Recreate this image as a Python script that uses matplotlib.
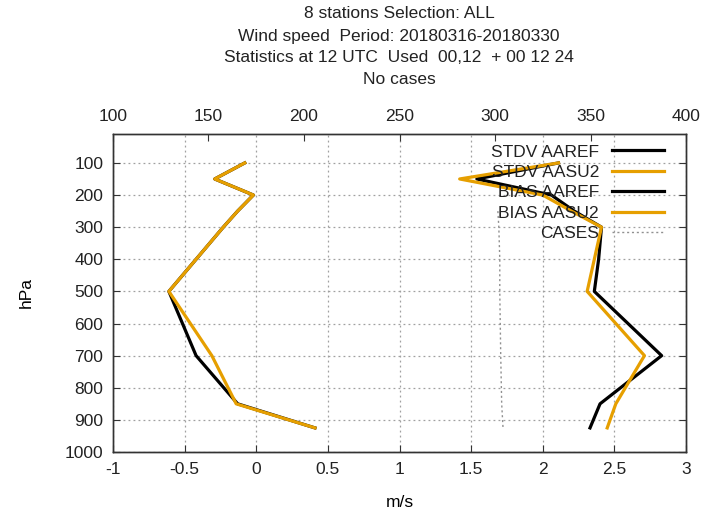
import numpy as np
import matplotlib.pyplot as plt
from matplotlib.lines import Line2D

plt.rcParams['font.family'] = ['Liberation Sans', 'DejaVu Sans']
plt.rcParams['font.size'] = 12.5
plt.rcParams['text.color'] = '#222222'

# pressure levels (hPa)
levels = [100, 150, 200, 250, 300, 400, 500, 700, 850, 925]

# m/s
stdv_aaref = [2.11, 1.54, 2.06, 2.22, 2.41, 2.39, 2.36, 2.83, 2.40, 2.33]
stdv_aasu2 = [2.11, 1.42, 2.00, 2.20, 2.41, 2.36, 2.31, 2.71, 2.51, 2.45]
bias_aaref = [-0.08, -0.29, -0.02, -0.13, -0.23, -0.42, -0.61, -0.42, -0.13, 0.41]
bias_aasu2 = [-0.08, -0.29, -0.02, -0.13, -0.23, -0.42, -0.61, -0.31, -0.14, 0.41]

# number of cases (top axis)
case_levels = [250, 300, 400, 500, 700, 850, 925]
cases = [301.5, 302.0, 302.5, 302.5, 303.0, 303.5, 304.2]

title_lines = [
    "8 stations Selection: ALL",
    "Wind speed  Period: 20180316-20180330",
    "Statistics at 12 UTC  Used  00,12  + 00 12 24",
    "No cases",
]

BLACK = '#000000'
ORANGE = '#e69f00'
GRIDC = '#a0a0a0'
FRAME = '#333333'

fig = plt.figure(figsize=(7.01, 5.09), dpi=100)
ax = fig.add_axes([113 / 701, 1 - 452 / 509, (686 - 113) / 701, (452 - 134) / 509])

ax.plot(stdv_aaref, levels, color=BLACK, lw=2.3, zorder=3)
ax.plot(stdv_aasu2, levels, color=ORANGE, lw=2.3, zorder=4)
ax.plot(bias_aaref, levels, color=BLACK, lw=2.3, zorder=3)
ax.plot(bias_aasu2, levels, color=ORANGE, lw=2.3, zorder=4)

ax.set_xlim(-1, 3)
ax.set_ylim(1000, 10)
ax.set_xticks(np.arange(-1, 3.01, 0.5))
ax.set_xticklabels(['-1', '-0.5', '0', '0.5', '1', '1.5', '2', '2.5', '3'])
ax.set_yticks(np.arange(100, 1001, 100))
ax.grid(True, color=GRIDC, ls=(0, (1.5, 2.5)), lw=0.9)
ax.tick_params(direction='in', length=5, color=FRAME, right=True, pad=7,
               labelcolor='#222222')
for s in ax.spines.values():
    s.set_color(FRAME)
    s.set_linewidth(1.0)
ax.set_xlabel('m/s', labelpad=13)
ax.set_ylabel('hPa', labelpad=22)

top = ax.twiny()
top.plot(cases, case_levels, color='#909090', lw=1.0, ls=(0, (1.5, 2)), zorder=2)
top.set_xlim(100, 400)
top.set_xticks(np.arange(100, 401, 50))
top.tick_params(direction='in', length=5, color=FRAME, pad=7, labelcolor='#222222')
for s in top.spines.values():
    s.set_color(FRAME)
    s.set_linewidth(1.0)

handles = [
    Line2D([], [], color=BLACK, lw=2.3),
    Line2D([], [], color=ORANGE, lw=2.3),
    Line2D([], [], color=BLACK, lw=2.3),
    Line2D([], [], color=ORANGE, lw=2.3),
    Line2D([], [], color='#909090', lw=1.0, ls=(0, (1.5, 2))),
]
labels = ['STDV AAREF', 'STDV AASU2', 'BIAS AAREF', 'BIAS AASU2', 'CASES']
leg = top.legend(handles, labels, loc='upper right', frameon=False, markerfirst=False,
                 handlelength=3.0, handletextpad=0.75, labelspacing=0.3,
                 borderaxespad=0.2, bbox_to_anchor=(0.98, 1.0))
for t in leg.get_texts():
    t.set_ha('right')

for i, line in enumerate(title_lines):
    fig.text(399 / 701, 1 - (14 + 22 * i) / 509, line, ha='center', va='center')

fig.savefig('out.png', dpi=100)
